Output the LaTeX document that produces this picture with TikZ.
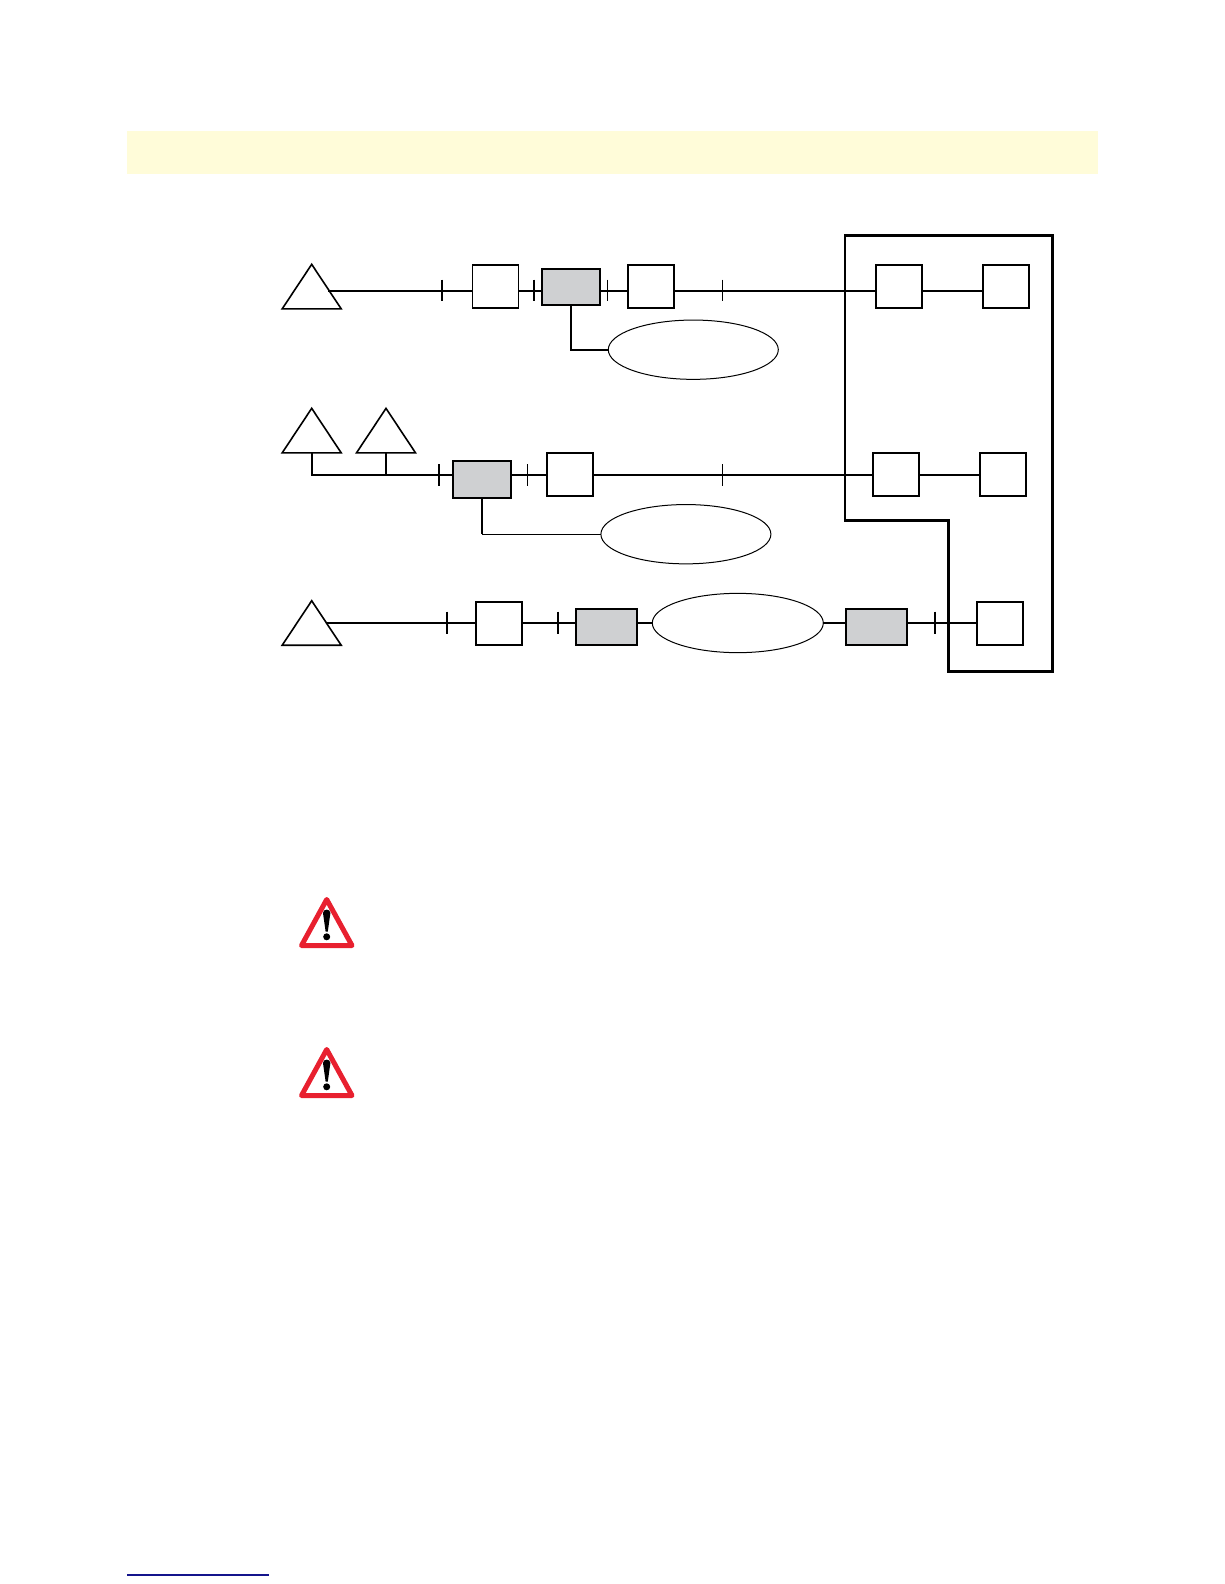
\documentclass[tikz,border=0pt]{standalone}
\usetikzlibrary{shapes.geometric}
\definecolor{bandfill}{HTML}{FFFCD9}
\definecolor{boxgray}{HTML}{CFD0D2}
\definecolor{signred}{HTML}{E8202F}
\definecolor{rulenavy}{HTML}{14148C}
\tikzset{
  wire/.style={line width=1.8pt},
  thinwire/.style={line width=1.1pt},
  thicktick/.style={line width=1.8pt},
  thintick/.style={line width=0.9pt},
  whitebox/.style={draw,line width=1.9pt,fill=white,inner sep=0pt,outer sep=0pt,minimum width=46pt,minimum height=43pt},
  graybox/.style={draw,line width=2.1pt,fill=boxgray,inner sep=0pt,outer sep=0pt,minimum height=36.3pt},
  cloud/.style={draw,ellipse,line width=1pt,fill=white,inner sep=0pt,outer sep=0pt,minimum width=170pt,minimum height=59.3pt},
  site/.style={draw,isosceles triangle,isosceles triangle stretches,shape border rotate=90,line width=1.6pt,inner sep=0pt,outer sep=0pt,minimum width=59pt,minimum height=44.5pt},
  zone/.style={line width=2.8pt,line join=miter},
  warnsign/.style={draw=signred,fill=white,line width=5pt,line join=round},
}
\begin{document}
\begin{tikzpicture}[x=1pt,y=-1pt]
\useasboundingbox (0,0) rectangle (1224,1584);
\fill[white] (0,0) rectangle (1224,1584);
\fill[bandfill] (127,131) rectangle (1098,174);

% zone outline
\draw[zone] (845,235.7) -- (1052.3,235.7) -- (1052.3,671.7) -- (948.3,671.7) -- (948.3,520.7) -- (845,520.7) -- cycle;

% row 1 nodes
\node[site] (s1) at (311.7,293) {};
\node[whitebox] (a1) at (495.5,286.2) {};
\node[graybox,minimum width=58.3pt] (g1) at (571.2,286.9) {};
\node[whitebox] (a2) at (651.2,286.2) {};
\node[whitebox] (a3) at (899.2,286.2) {};
\node[whitebox] (a4) at (1006,286.2) {};
\node[cloud] (c1) at (693.3,349.7) {};
\coordinate (w1) at (328,290.7);
\draw[wire] (w1) -- (w1 -| a1.west);
\draw[wire] (w1 -| a1.east) -- (w1 -| g1.west);
\draw[wire] (w1 -| g1.east) -- (w1 -| a2.west);
\draw[wire] (w1 -| a2.east) -- (w1 -| a3.west);
\draw[wire] (w1 -| a3.east) -- (w1 -| a4.west);
\draw[wire] (g1.south) |- (c1.west);
\foreach \x/\k in {441.7/thicktick,534/thicktick,607.3/thintick,722.3/thintick}
  \draw[\k] (\x,279.7) -- (\x,301);

% row 2 nodes
\node[site] (s2) at (311.7,437) {};
\node[site] (s3) at (386,437) {};
\node[graybox,minimum width=58pt] (g2) at (482.3,479.4) {};
\node[whitebox] (b1) at (569.7,474.4) {};
\node[whitebox] (b2) at (896,474.4) {};
\node[whitebox] (b3) at (1003.2,474.4) {};
\node[cloud] (c2) at (685.9,534.2) {};
\coordinate (w2) at (312,474.7);
\coordinate (j2) at (386,474.7);
\draw[wire,line join=miter] (s2.south) -- (s2.south |- w2) -- (w2 -| g2.west);
\draw[wire] (s3.south) -- (j2);
\draw[wire] (w2 -| g2.east) -- (w2 -| b1.west);
\draw[wire] (w2 -| b1.east) -- (w2 -| b2.west);
\draw[wire] (w2 -| b2.east) -- (w2 -| b3.west);
\coordinate (k2) at (g2.south |- c2.west);
\draw[wire] (g2.south) -- (k2);
\draw[thinwire] (k2) -- (c2.west);
\foreach \x/\k in {439/thicktick,527.3/thintick,722.3/thintick}
  \draw[\k] (\x,464) -- (\x,485.7);

% row 3 nodes
\node[site] (s4) at (311.7,629.4) {};
\node[whitebox] (d1) at (499.2,623.3) {};
\node[graybox,minimum width=61.3pt] (g3) at (606.3,627) {};
\node[cloud,minimum width=171pt] (c3) at (737.8,623) {};
\node[graybox,minimum width=61.6pt] (g4) at (876.5,627) {};
\node[whitebox] (d2) at (999.8,623.3) {};
\coordinate (w3) at (327,622.7);
\draw[wire] (w3) -- (w3 -| d1.west);
\draw[wire] (w3 -| d1.east) -- (w3 -| g3.west);
\draw[wire] (w3 -| g3.east) -- (w3 -| c3.west);
\draw[wire] (w3 -| c3.east) -- (w3 -| g4.west);
\draw[wire] (w3 -| g4.east) -- (w3 -| d2.west);
\foreach \x in {446.7,558,935}
  \draw[thicktick] (\x,611.5) -- (\x,634);

% warning signs
\foreach \dy in {0,150}{
  \begin{scope}[yshift=-\dy pt]
    \draw[warnsign] (326.7,899.5) -- (352,945.5) -- (301.5,945.5) -- cycle;
    \fill[black] (323,913) .. controls (323,908.5) and (330.4,908.5) .. (330.4,913) -- (327.8,931.5) -- (325.6,931.5) -- cycle;
    \fill[black] (326.7,936.8) circle (3.5pt);
  \end{scope}
}

% footer rule
\draw[rulenavy,line width=1.2pt] (127,1575) -- (269,1575);
\end{tikzpicture}
\end{document}
